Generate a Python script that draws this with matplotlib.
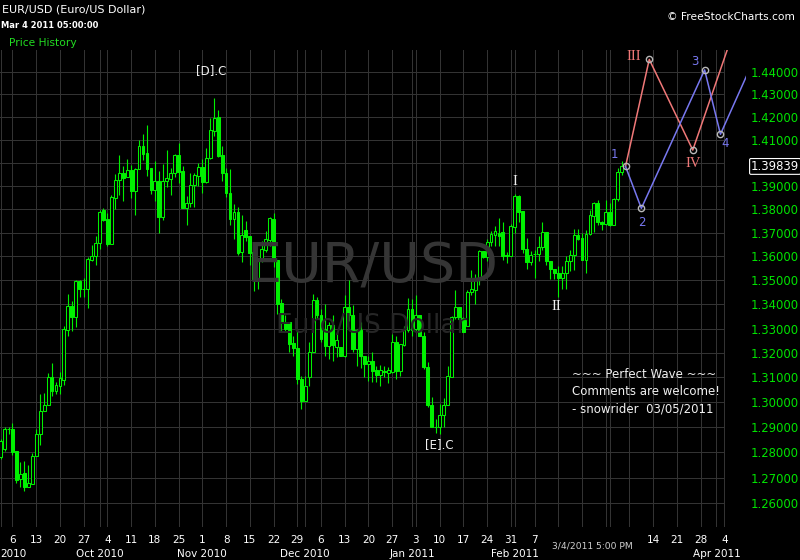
import numpy as np
import pandas as pd
import matplotlib.pyplot as plt
from matplotlib.ticker import NullLocator
from matplotlib.transforms import blended_transform_factory

# EUR/USD daily bars (forex sessions Sun-Fri), Sep 2 2010 .. Mar 4 2011
first_day = '2010-09-02'
opens = [1.2781, 1.2813, 1.2893, 1.2893, 1.2807, 1.2694, 1.2717, 1.2665, 1.2675, 1.2785,
         1.2873, 1.2964, 1.2989, 1.3104, 1.3047, 1.3067, 1.3090, 1.3294, 1.3393, 1.3346,
         1.3496, 1.3465, 1.3463, 1.3586, 1.3600, 1.3658, 1.3797, 1.3760, 1.3651, 1.3847,
         1.3924, 1.3954, 1.3940, 1.3967, 1.3878, 1.3971, 1.4074, 1.4041, 1.3976, 1.3883,
         1.3920, 1.3769, 1.3919, 1.3929, 1.3954, 1.4032, 1.3964, 1.3807, 1.3826, 1.3903,
         1.3943, 1.3983, 1.3917, 1.4022, 1.4140, 1.4200, 1.4032, 1.3957, 1.3871, 1.3760,
         1.3787, 1.3617, 1.3710, 1.3686, 1.3617, 1.3507, 1.3582, 1.3628, 1.3669, 1.3760,
         1.3585, 1.3407, 1.3323, 1.3325, 1.3239, 1.3219, 1.3093, 1.3007, 1.3104, 1.3203,
         1.3417, 1.3356, 1.3297, 1.3230, 1.3314, 1.3223, 1.3223, 1.3186, 1.3389, 1.3356,
         1.3214, 1.3293, 1.3186, 1.3155, 1.3166, 1.3131, 1.3111, 1.3125, 1.3118, 1.3123,
         1.3246, 1.3127, 1.3234, 1.3293, 1.3382, 1.3297, 1.3354, 1.3270, 1.3141, 1.2987,
         1.2900, 1.2900, 1.2947, 1.2989, 1.3104, 1.3346, 1.3389, 1.3342, 1.3311, 1.3451,
         1.3461, 1.3500, 1.3621, 1.3596, 1.3661, 1.3689, 1.3700, 1.3704, 1.3607, 1.3600,
         1.3726, 1.3857, 1.3793, 1.3632, 1.3575, 1.3610, 1.3610, 1.3639, 1.3703, 1.3582,
         1.3549, 1.3532, 1.3511, 1.3532, 1.3582, 1.3606, 1.3690, 1.3676, 1.3586, 1.3694,
         1.3773, 1.3826, 1.3744, 1.3739, 1.3790, 1.3734, 1.3843, 1.3959]
highs = [1.2853, 1.2900, 1.2900, 1.2917, 1.2807, 1.2762, 1.2765, 1.2749, 1.2797, 1.2893,
         1.3034, 1.3038, 1.3118, 1.3158, 1.3082, 1.3121, 1.3311, 1.3444, 1.3414, 1.3500,
         1.3500, 1.3510, 1.3596, 1.3647, 1.3686, 1.3797, 1.3804, 1.3783, 1.3859, 1.3950,
         1.4032, 1.3986, 1.4015, 1.3989, 1.3978, 1.4099, 1.4124, 1.4163, 1.3976, 1.4007,
         1.3964, 1.3993, 1.4054, 1.3976, 1.4037, 1.4085, 1.3986, 1.3856, 1.3954, 1.3954,
         1.4000, 1.4015, 1.4062, 1.4193, 1.4283, 1.4232, 1.4074, 1.3978, 1.3975, 1.3823,
         1.3809, 1.3776, 1.3751, 1.3686, 1.3656, 1.3592, 1.3665, 1.3707, 1.3769, 1.3783,
         1.3585, 1.3424, 1.3354, 1.3325, 1.3270, 1.3300, 1.3107, 1.3107, 1.3243, 1.3444,
         1.3431, 1.3382, 1.3403, 1.3325, 1.3354, 1.3284, 1.3223, 1.3438, 1.3500, 1.3396,
         1.3297, 1.3325, 1.3186, 1.3189, 1.3203, 1.3148, 1.3151, 1.3148, 1.3141, 1.3277,
         1.3270, 1.3236, 1.3311, 1.3426, 1.3424, 1.3438, 1.3354, 1.3284, 1.3162, 1.3020,
         1.2933, 1.2993, 1.3016, 1.3148, 1.3351, 1.3458, 1.3389, 1.3346, 1.3458, 1.3541,
         1.3527, 1.3628, 1.3624, 1.3675, 1.3707, 1.3728, 1.3763, 1.3747, 1.3617, 1.3737,
         1.3867, 1.3861, 1.3793, 1.3679, 1.3624, 1.3628, 1.3686, 1.3746, 1.3703, 1.3582,
         1.3549, 1.3559, 1.3559, 1.3603, 1.3628, 1.3716, 1.3714, 1.3701, 1.3711, 1.3797,
         1.3833, 1.3840, 1.3749, 1.3840, 1.3826, 1.3850, 1.3978, 1.4007]
lows = [1.2774, 1.2807, 1.2873, 1.2790, 1.2678, 1.2665, 1.2648, 1.2665, 1.2675, 1.2785,
        1.2831, 1.2964, 1.2989, 1.3027, 1.3033, 1.3033, 1.3069, 1.3270, 1.3288, 1.3307,
        1.3431, 1.3431, 1.3385, 1.3579, 1.3566, 1.3631, 1.3749, 1.3642, 1.3651, 1.3800,
        1.3859, 1.3834, 1.3940, 1.3849, 1.3776, 1.3971, 1.4010, 1.3943, 1.3867, 1.3834,
        1.3700, 1.3756, 1.3897, 1.3861, 1.3940, 1.3914, 1.3807, 1.3735, 1.3809, 1.3809,
        1.3900, 1.3871, 1.3914, 1.4018, 1.4117, 1.4026, 1.3921, 1.3854, 1.3735, 1.3672,
        1.3607, 1.3578, 1.3665, 1.3566, 1.3454, 1.3465, 1.3575, 1.3617, 1.3644, 1.3555,
        1.3361, 1.3286, 1.3286, 1.3203, 1.3189, 1.3073, 1.2971, 1.3007, 1.3064, 1.3203,
        1.3339, 1.3243, 1.3189, 1.3175, 1.3168, 1.3182, 1.3186, 1.3182, 1.3332, 1.3203,
        1.3148, 1.3137, 1.3100, 1.3087, 1.3080, 1.3080, 1.3067, 1.3100, 1.3077, 1.3118,
        1.3093, 1.3107, 1.3230, 1.3287, 1.3270, 1.3284, 1.3268, 1.3134, 1.2980, 1.2900,
        1.2876, 1.2873, 1.2900, 1.2987, 1.3100, 1.3339, 1.3337, 1.3284, 1.3311, 1.3438,
        1.3400, 1.3479, 1.3592, 1.3582, 1.3644, 1.3644, 1.3644, 1.3586, 1.3573, 1.3600,
        1.3700, 1.3747, 1.3614, 1.3548, 1.3566, 1.3508, 1.3579, 1.3625, 1.3562, 1.3504,
        1.3507, 1.3431, 1.3465, 1.3465, 1.3538, 1.3545, 1.3669, 1.3586, 1.3532, 1.3690,
        1.3704, 1.3733, 1.3711, 1.3734, 1.3730, 1.3734, 1.3836, 1.3949]
closes = [1.2847, 1.2893, 1.2894, 1.2803, 1.2691, 1.2713, 1.2665, 1.2678, 1.2785, 1.2873,
          1.2964, 1.2989, 1.3104, 1.3047, 1.3069, 1.3096, 1.3297, 1.3393, 1.3346, 1.3496,
          1.3463, 1.3465, 1.3589, 1.3600, 1.3658, 1.3790, 1.3756, 1.3651, 1.3851, 1.3924,
          1.3954, 1.3933, 1.3967, 1.3878, 1.3971, 1.4074, 1.4037, 1.3971, 1.3883, 1.3920,
          1.3769, 1.3920, 1.3933, 1.3954, 1.4032, 1.3960, 1.3807, 1.3826, 1.3903, 1.3947,
          1.3983, 1.3917, 1.4022, 1.4141, 1.4196, 1.4028, 1.3957, 1.3868, 1.3760, 1.3787,
          1.3614, 1.3689, 1.3682, 1.3614, 1.3507, 1.3589, 1.3631, 1.3672, 1.3763, 1.3582,
          1.3403, 1.3323, 1.3297, 1.3236, 1.3219, 1.3093, 1.3007, 1.3067, 1.3203, 1.3417,
          1.3354, 1.3257, 1.3230, 1.3314, 1.3232, 1.3254, 1.3186, 1.3389, 1.3354, 1.3214,
          1.3293, 1.3186, 1.3155, 1.3166, 1.3127, 1.3111, 1.3131, 1.3121, 1.3131, 1.3243,
          1.3127, 1.3236, 1.3293, 1.3382, 1.3294, 1.3354, 1.3270, 1.3141, 1.2987, 1.2900,
          1.2902, 1.2947, 1.2989, 1.3107, 1.3346, 1.3389, 1.3339, 1.3284, 1.3451, 1.3463,
          1.3500, 1.3624, 1.3596, 1.3661, 1.3693, 1.3707, 1.3686, 1.3603, 1.3600, 1.3729,
          1.3857, 1.3790, 1.3631, 1.3575, 1.3606, 1.3610, 1.3639, 1.3703, 1.3579, 1.3548,
          1.3532, 1.3511, 1.3532, 1.3582, 1.3606, 1.3690, 1.3672, 1.3586, 1.3694, 1.3776,
          1.3826, 1.3747, 1.3739, 1.3790, 1.3734, 1.3843, 1.3959, 1.3984]

# projected wave counts
red_dates = ['2011-03-06', '2011-03-13', '2011-03-25', '2011-04-06']
red_prices = [1.3984, 1.4455, 1.4055, 1.4564]
red_labels = ['', 'III', 'IV', '']
blue_dates = ['2011-03-06', '2011-03-10', '2011-03-29', '2011-04-03', '2011-04-11']
blue_prices = [1.3984, 1.3804, 1.4408, 1.4124, 1.4397]
blue_labels = ['1', '2', '3', '4', '']

# labels on the price history
hist_dates = ['2010-11-04', '2011-01-10', '2011-02-01', '2011-02-13']
hist_prices = [1.4283, 1.2873, 1.3867, 1.3431]
hist_labels = ['[D].C', '[E].C', 'I', 'II']

price_ticks = np.round(np.arange(1.26, 1.4405, 0.01), 2)
last_price = '1.39839'

# session calendar (no Saturdays)
sessions = pd.date_range(first_day, '2011-04-15')
sessions = sessions[sessions.dayofweek != 5]
pos = pd.Series(np.arange(len(sessions)), index=sessions)
idx = np.arange(len(closes))

green = '#00f000'
grid_c = '#333333'
red_c = '#f07878'
blue_c = '#7878f0'

fig = plt.figure(figsize=(8, 5.6), dpi=100, facecolor='black')
ax = fig.add_axes([0, 33 / 560, 746 / 800, 477 / 560], facecolor='black')
ax.set_yscale('log')
ax.set_ylim(1.25078, 1.4497)
ax.set_xlim(-0.16, 188.46)
for s in ax.spines.values():
    s.set_visible(False)

# grid
mondays = sessions[sessions.dayofweek == 0]
month_first = sessions.to_series().groupby([sessions.year, sessions.month]).min()
apr4 = pos[pd.Timestamp('2011-04-04')]
for d in mondays.union(pd.DatetimeIndex(month_first.values)):
    if d <= pd.Timestamp('2011-04-04'):
        ax.axvline(pos[d], color=grid_c, lw=0.72, zorder=0.5)
ax.hlines(price_ticks, -1, apr4, color=grid_c, lw=0.72, zorder=0.5)

# watermark
fig.text(372 / 800, 1 - 283 / 560, 'EUR/USD', color='#353535', fontsize=40,
         ha='center', va='baseline', zorder=0.6)
fig.text(372 / 800, 1 - 333 / 560, 'Euro/US Dollar', color='#262626', fontsize=19,
         ha='center', va='baseline', zorder=0.6)

# candles
o = np.array(opens); h = np.array(highs); l = np.array(lows); c = np.array(closes)
ax.vlines(idx, l, h, color=green, lw=0.8, zorder=2)
up = c >= o
ax.bar(idx[up], c[up] - o[up], bottom=o[up], width=0.72, facecolor='black',
       edgecolor=green, lw=0.75, zorder=3)
ax.bar(idx[~up], o[~up] - c[~up], bottom=c[~up], width=0.72, facecolor=green,
       edgecolor=green, lw=0.75, zorder=3)

# wave projections
offsets = {'1': (-11, 12), '2': (1, -14), '3': (-10, 8), '4': (5, -9),
           'III': (-15, 3), 'IV': (0, -13)}
for dates, prices, labels, col in [(red_dates, red_prices, red_labels, red_c),
                                   (blue_dates, blue_prices, blue_labels, blue_c)]:
    xs = [pos[pd.Timestamp(d)] for d in dates]
    ax.plot(xs, prices, color=col, lw=1.1, zorder=4, clip_on=True)
    for x, p, lab in zip(xs, prices, labels):
        if lab:
            ax.plot(x, p, 'o', ms=4.5, mfc='none', mec='#b8b8b8', mew=1.0, zorder=5)
            serif = lab in ('III', 'IV')
            ax.annotate(lab, (x, p), xytext=offsets[lab], textcoords='offset pixels',
                        ha='center', va='center', color=col, zorder=6,
                        fontsize=10.5 if serif else 8.5,
                        family='Liberation Serif' if serif else 'DejaVu Sans')

hist_offsets = {'[D].C': (-3, 28), '[E].C': (0, -11), 'I': (0, 12), 'II': (2, -10)}
for d, p, lab in zip(hist_dates, hist_prices, hist_labels):
    serif = lab in ('I', 'II')
    ax.annotate(lab, (pos[pd.Timestamp(d)], p), xytext=hist_offsets[lab],
                textcoords='offset pixels', ha='center', va='center', color='#f0f0f0',
                fontsize=10.5 if serif else 8.5,
                family='Liberation Serif' if serif else 'DejaVu Sans', zorder=6)

# price axis
ax.yaxis.tick_right()
ax.set_yticks(price_ticks)
ax.yaxis.set_minor_locator(NullLocator())
ax.set_yticklabels(['' if abs(t - 1.40) < 1e-9 else f'{t:.5f}' for t in price_ticks])
ax.tick_params(axis='y', length=0, pad=3, labelsize=8.4, labelcolor='#00e400')
ax.tick_params(axis='x', length=0, labelbottom=False)
ax.annotate(last_price, (1, closes[-1]), xycoords=('axes fraction', 'data'),
            xytext=(5, 0), textcoords='offset pixels', ha='left', va='center',
            color='white', fontsize=8.4, zorder=10, annotation_clip=False,
            bbox=dict(boxstyle='round,pad=0.12', fc='black', ec='white', lw=0.8))

# date axis
tr = blended_transform_factory(ax.transData, fig.transFigure)
hidden = (mondays >= '2011-02-14') & (mondays <= '2011-03-07')
for d in mondays[~hidden]:
    if d <= pd.Timestamp('2011-04-04'):
        ax.text(pos[d], 1 - 540 / 560, str(d.day), transform=tr, ha='center',
                va='center', color='white', fontsize=7.5, clip_on=False)
for d in month_first.values:
    d = pd.Timestamp(d)
    if d.month == 3 or d > pd.Timestamp('2011-04-04'):
        continue
    if d.month == 9:
        # Sep label runs off the left edge: only the year shows
        fig.text(0, 1 - 554 / 560, d.strftime('%Y'), color='white', fontsize=7.5,
                 ha='left', va='center')
        continue
    ax.text(pos[d], 1 - 554 / 560, d.strftime('%b %Y'), transform=tr, ha='center',
            va='center', color='white', fontsize=7.5, clip_on=False)
fig.text(592 / 800, 1 - 546 / 560, '3/4/2011 5:00 PM', color='#cfcfcf', fontsize=6.6,
         ha='center', va='center')

# header
fig.text(2 / 800, 1 - 10 / 560, 'EUR/USD (Euro/US Dollar)', color='white', fontsize=8,
         ha='left', va='center')
fig.text(1 / 800, 1 - 26 / 560, 'Mar 4 2011 05:00:00', color='white', fontsize=6,
         fontweight='bold', ha='left', va='center')
fig.text(9 / 800, 1 - 43 / 560, 'Price History', color='#22dd22', fontsize=7.7,
         ha='left', va='center')
fig.text(795 / 800, 1 - 17 / 560, '\u00a9 FreeStockCharts.com', color='white',
         fontsize=7.7, ha='right', va='center')

# comment box
notes = ['~~~ Perfect Wave ~~~', 'Comments are welcome!', '- snowrider  03/05/2011']
for i, line in enumerate(notes):
    fig.text(572 / 800, 1 - (374 + 17.5 * i) / 560, line, color='#f0f0f0',
             fontsize=8.5, ha='left', va='center')

fig.savefig('out.png', dpi=100, facecolor='black')
